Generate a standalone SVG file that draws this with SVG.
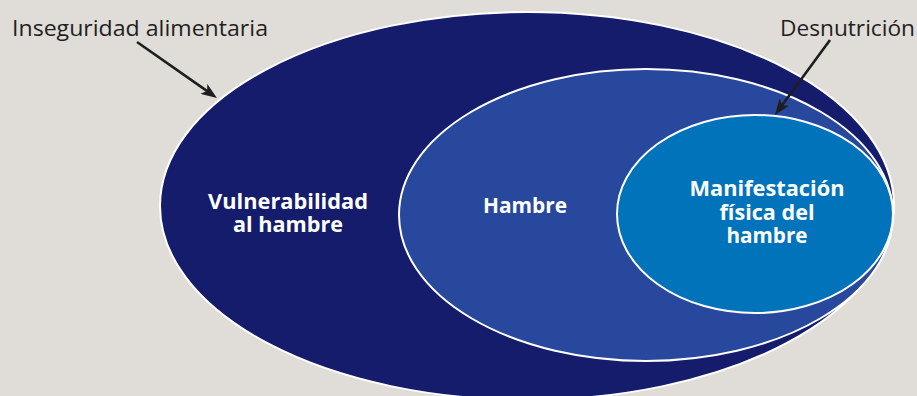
<svg xmlns="http://www.w3.org/2000/svg" width="917" height="396" viewBox="0 0 917 396">
  <style>
    .ell { stroke: #ffffff; stroke-width: 2; }
    .lbl { font-family: "Open Sans", "Noto Sans", "Liberation Sans", sans-serif; font-size: 21px; fill: #231f20; }
    .in { font-family: "Open Sans", "Noto Sans", "Liberation Sans", sans-serif; font-size: 21px; font-weight: bold; fill: #ffffff; text-anchor: middle; }
    .arr { stroke: #1e1e1e; stroke-width: 2.6; fill: none; marker-end: url(#head); }
  </style>
  <defs>
    <marker id="head" viewBox="0 0 16 12" refX="8" refY="6" markerWidth="16" markerHeight="12" markerUnits="userSpaceOnUse" orient="auto">
      <path d="M0,0 L16,6 L0,12 L4,6 Z" fill="#1e1e1e"/>
    </marker>
  </defs>
  <rect x="0" y="0" width="917" height="396" fill="#e0ddd9"/>

  <g id="inseguridad">
    <ellipse class="ell" cx="527" cy="206" rx="367" ry="194" fill="#141c6b"/>
    <text class="in" x="288" y="209" textLength="160" lengthAdjust="spacingAndGlyphs">Vulnerabilidad</text>
    <text class="in" x="288" y="232" textLength="110" lengthAdjust="spacingAndGlyphs">al hambre</text>
  </g>

  <g id="hambre">
    <ellipse class="ell" cx="646" cy="215" rx="247" ry="146" fill="#27489d"/>
    <text class="in" x="525" y="213" textLength="84" lengthAdjust="spacingAndGlyphs">Hambre</text>
  </g>

  <g id="desnutricion">
    <ellipse class="ell" cx="755" cy="214" rx="138" ry="99" fill="#0073bb"/>
    <text class="in" x="767" y="196" textLength="155" lengthAdjust="spacingAndGlyphs">Manifestación</text>
    <text class="in" x="767" y="220" textLength="95" lengthAdjust="spacingAndGlyphs">física del</text>
    <text class="in" x="767" y="243" textLength="81" lengthAdjust="spacingAndGlyphs">hambre</text>
  </g>

  <g id="label-inseguridad">
    <text class="lbl" x="12" y="36" textLength="256" lengthAdjust="spacingAndGlyphs">Inseguridad alimentaria</text>
  </g>
  <g id="label-desnutricion">
    <text class="lbl" x="780" y="36" textLength="135" lengthAdjust="spacingAndGlyphs">Desnutrición</text>
  </g>

  <g id="connectors">
    <line class="arr" x1="137" y1="42" x2="210.4" y2="93.4"/>
    <line class="arr" x1="830" y1="40" x2="779.7" y2="108.6"/>
  </g>
</svg>
